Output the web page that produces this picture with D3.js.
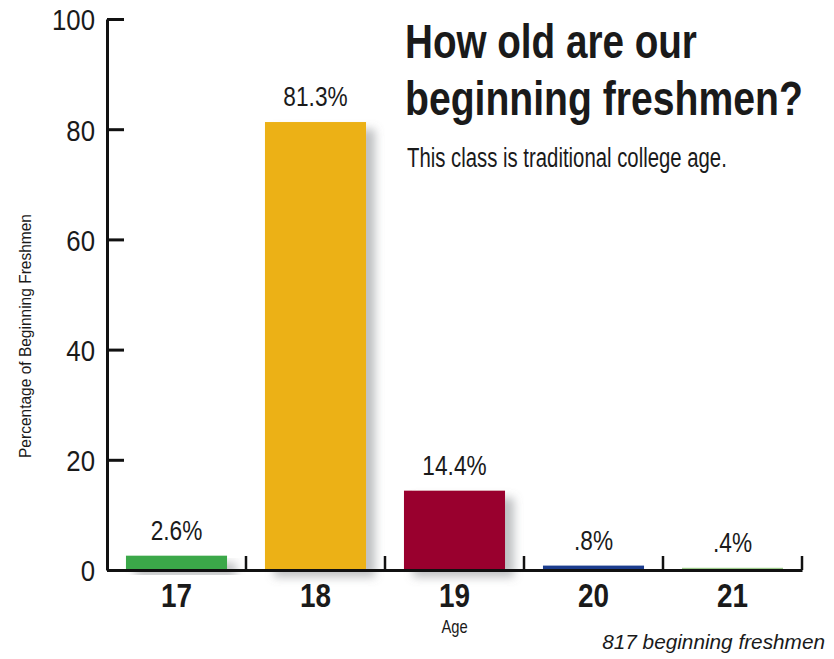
<!DOCTYPE html>
<html>
<head>
<meta charset="utf-8">
<script src="https://cdn.jsdelivr.net/npm/d3@7/dist/d3.min.js"></script>
<style>
  html, body { margin: 0; padding: 0; background: #fff; }
  svg { display: block; }
  text { font-family: "Liberation Sans", Arial, sans-serif; fill: #1a1a1a; }
</style>
</head>
<body>
<svg id="chart" width="834" height="659"></svg>
<script>
// Age distribution of the entering class
const ages = ["17", "18", "19", "20", "21"];
const percents = [2.6, 81.3, 14.4, 0.8, 0.4];
const valueLabels = ["2.6%", "81.3%", "14.4%", ".8%", ".4%"];
const barColors = ["#3aa849", "#ecb118", "#99002e", "#1f3d8e", "#9ecb8c"];
const yTicks = [0, 20, 40, 60, 80, 100];

const svg = d3.select("#chart");

// squeeze a text horizontally to a condensed face look (by factor, or to a width)
function condense(sel, s) {
  sel.each(function () {
    const t = d3.select(this);
    const x = +t.attr("x") || 0, y = +t.attr("y") || 0;
    t.attr("x", 0).attr("y", 0).attr("transform", `translate(${x},${y}) scale(${s},1)`);
  });
}
function fitWidth(sel, w) {
  sel.each(function () {
    const s = w / this.getComputedTextLength();
    condense(d3.select(this), s);
  });
}

const x = d3.scaleBand()
  .domain(ages)
  .range([107, 802])
  .paddingInner(0.273)
  .paddingOuter(0.1365);

const y = d3.scaleLinear()
  .domain([0, 100])
  .range([570, 19]);

// soft drop shadow behind the bars
const defs = svg.append("defs");
const f = defs.append("filter").attr("id", "shadow")
  .attr("x", "-30%").attr("y", "-30%").attr("width", "160%").attr("height", "160%");
f.append("feGaussianBlur").attr("in", "SourceAlpha").attr("stdDeviation", 5).attr("result", "blur");
f.append("feOffset").attr("in", "blur").attr("dx", 9).attr("dy", 7).attr("result", "off");
f.append("feFlood").attr("flood-color", "#6f7377").attr("flood-opacity", 0.45).attr("result", "col");
f.append("feComposite").attr("in", "col").attr("in2", "off").attr("operator", "in").attr("result", "sh");
const m = f.append("feMerge");
m.append("feMergeNode").attr("in", "sh");
m.append("feMergeNode").attr("in", "SourceGraphic");

// bars
svg.append("g").selectAll("rect")
  .data(ages)
  .join("rect")
  .attr("x", d => x(d))
  .attr("y", (d, i) => y(percents[i]))
  .attr("width", x.bandwidth())
  .attr("height", (d, i) => y(0) - y(percents[i]))
  .attr("fill", (d, i) => barColors[i])
  .attr("filter", "url(#shadow)");

// value labels
svg.append("g").selectAll("text")
  .data(ages)
  .join("text")
  .attr("x", d => x(d) + x.bandwidth() / 2)
  .attr("y", (d, i) => y(percents[i]) - 16)
  .attr("text-anchor", "middle")
  .attr("font-size", 27)
  .attr("fill", "#222")
  .text((d, i) => valueLabels[i])
  .call(condense, 0.84);

// y axis: ticks pointing into the plot, labels on the left
const yAxis = svg.append("g")
  .attr("transform", `translate(${x.range()[0]},0)`)
  .call(d3.axisLeft(y).tickValues(yTicks).tickSizeInner(-17).tickSizeOuter(0).tickPadding(12));
yAxis.select(".domain").attr("stroke", "#111").attr("stroke-width", 3);
yAxis.selectAll(".tick line").attr("stroke", "#111").attr("stroke-width", 3);
yAxis.selectAll(".tick text")
  .attr("font-family", null)
  .attr("font-size", 30)
  .attr("fill", "#1a1a1a")
  .attr("dy", "0.36em")
  .call(condense, 0.86);

// x axis baseline with category labels
const xAxis = svg.append("g")
  .attr("transform", `translate(0,${y(0)})`)
  .call(d3.axisBottom(x).tickSize(0).tickPadding(13));
xAxis.select(".domain").attr("stroke", "#111").attr("stroke-width", 3);
xAxis.selectAll(".tick text")
  .attr("font-family", null)
  .attr("font-size", 34)
  .attr("font-weight", "bold")
  .attr("fill", "#1a1a1a")
  .attr("dy", "0.72em")
  .call(condense, 0.82);

// separators between the age groups
const step = x.step();
const bounds = ages.map(d => x(d) + x.bandwidth() + step * x.paddingInner() / 2);
svg.append("g").selectAll("line")
  .data(bounds)
  .join("line")
  .attr("x1", d => d).attr("x2", d => d)
  .attr("y1", y(0)).attr("y2", y(0) - 14)
  .attr("stroke", "#111")
  .attr("stroke-width", 2.5);

// axis titles
svg.append("text")
  .attr("transform", "translate(31,336) rotate(-90)")
  .attr("text-anchor", "middle")
  .attr("font-size", 17)
  .attr("fill", "#333")
  .attr("textLength", 244)
  .attr("lengthAdjust", "spacingAndGlyphs")
  .text("Percentage of Beginning Freshmen");

svg.append("text")
  .attr("x", x("19") + x.bandwidth() / 2)
  .attr("y", 633)
  .attr("text-anchor", "middle")
  .attr("font-size", 18)
  .attr("fill", "#333")
  .text("Age")
  .call(condense, 0.82);

// headline
svg.append("text")
  .attr("x", 405).attr("y", 58)
  .attr("font-size", 49)
  .attr("font-weight", "bold")
  .text("How old are our")
  .call(fitWidth, 292);
svg.append("text")
  .attr("x", 405).attr("y", 115)
  .attr("font-size", 49)
  .attr("font-weight", "bold")
  .text("beginning freshmen?")
  .call(fitWidth, 398);
svg.append("text")
  .attr("x", 407).attr("y", 167)
  .attr("font-size", 27)
  .text("This class is traditional college age.")
  .call(fitWidth, 320);

// footnote
svg.append("text")
  .attr("x", 825).attr("y", 649)
  .attr("text-anchor", "end")
  .attr("font-size", 21)
  .attr("font-style", "italic")
  .attr("fill", "#222")
  .text("817 beginning freshmen")
  .call(fitWidth, 223);
</script>
</body>
</html>
